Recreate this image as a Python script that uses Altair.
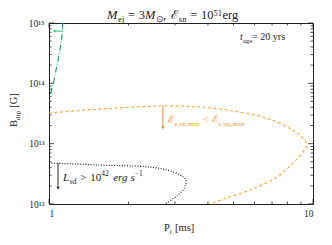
import altair as alt
import pandas as pd

# ---- curves ----
green_P = [1.127, 1.12, 1.10, 1.072, 1.045, 1.018, 1.0]
green_B = [1.0e15, 6.3e14, 3.6e14, 2.0e14, 1.14e14, 7.2e13, 5.7e13]

orange_P = [1.0, 1.31, 1.56, 2.70, 3.73, 4.98, 6.69, 7.97, 8.93, 9.49,
            9.17, 8.40, 7.31, 5.77, 4.72, 4.07]
orange_B = [3.22e13, 3.55e13, 3.75e13, 4.21e13, 4.05e13, 3.48e13, 2.66e13,
            1.89e13, 1.39e13, 9.5e12, 7.27e12, 4.78e12, 2.80e12, 1.71e12,
            1.26e12, 1.0e12]

black_P = [1.0, 1.56, 2.41, 2.80, 3.14, 3.30, 3.27, 3.08, 2.75]
black_B = [4.78e12, 4.43e12, 4.10e12, 3.66e12, 3.02e12, 2.50e12, 1.91e12,
           1.41e12, 1.0e12]

# arrows: (P start, P end, B start, B end)
green_arrow = [1.127, 1.045, 7.36e14, 7.36e14]
orange_arrow = [2.70, 2.70, 4.21e13, 1.82e13]
black_arrow = [1.082, 1.082, 4.78e12, 1.84e12]

# ticks
x_major = [1, 10]
x_minor = [2, 3, 4, 5, 6, 7, 8, 9]
y_major = [1e12, 1e13, 1e14, 1e15]
y_minor = [2e12, 3e12, 4e12, 5e12, 6e12, 7e12, 8e12, 9e12,
           2e13, 3e13, 4e13, 5e13, 6e13, 7e13, 8e13, 9e13,
           2e14, 3e14, 4e14, 5e14, 6e14, 7e14, 8e14, 9e14]

W, H = 264, 181
FONT = "Liberation Serif"
INK = "#222222"


def xs():
    return alt.Scale(type="log", domain=[1, 10], nice=False)


def ys():
    return alt.Scale(type="log", domain=[1e12, 1e15], nice=False)


xaxis = alt.Axis(values=x_major, labelExpr="datum.value < 5 ? '1' : '10'",
                 ticks=False, domain=False, grid=False, title=None,
                 labelFont=FONT, labelFontSize=9.5, labelPadding=4, labelColor=INK)
yaxis = alt.Axis(values=y_major,
                 labelExpr="datum.value > 5e14 ? '10¹⁵' : datum.value > 5e13 ? '10¹⁴' : datum.value > 5e12 ? '10¹³' : '10¹²'",
                 ticks=False, domain=False, grid=False, title=None,
                 labelFont=FONT, labelFontSize=9.5, labelPadding=5, labelColor=INK)


def curve(P, B, color, dash, width=1.2, axes=False):
    df = pd.DataFrame({"P": P, "B": B, "o": list(range(len(P)))})
    return alt.Chart(df).mark_line(color=color, strokeDash=dash, strokeWidth=width,
                                   interpolate="catmull-rom").encode(
        x=alt.X("P:Q", scale=xs(), axis=xaxis if axes else None),
        y=alt.Y("B:Q", scale=ys(), axis=yaxis if axes else None),
        order="o:Q")


def arrow(a, color, head):
    df = pd.DataFrame({"P": [a[0]], "P2": [a[1]], "B": [a[2]], "B2": [a[3]]})
    rule = alt.Chart(df).mark_rule(color=color, strokeWidth=1).encode(
        x=alt.X("P:Q", scale=xs(), axis=None), x2="P2:Q",
        y=alt.Y("B:Q", scale=ys(), axis=None), y2="B2:Q")
    tip = alt.Chart(df).mark_point(shape=head, filled=True, color=color, size=10, opacity=1).encode(
        x=alt.X("P2:Q", scale=xs(), axis=None), y=alt.Y("B2:Q", scale=ys(), axis=None))
    return [rule, tip]


def ticks(vals, length, side):
    df = pd.DataFrame({"v": vals})
    c = alt.Chart(df).mark_rule(color=INK, strokeWidth=0.8)
    if side == "left":
        return c.encode(y=alt.Y("v:Q", scale=ys(), axis=None), x=alt.value(0), x2=alt.value(length))
    if side == "right":
        return c.encode(y=alt.Y("v:Q", scale=ys(), axis=None), x=alt.value(W), x2=alt.value(W - length))
    if side == "bottom":
        return c.encode(x=alt.X("v:Q", scale=xs(), axis=None), y=alt.value(H), y2=alt.value(H - length))
    return c.encode(x=alt.X("v:Q", scale=xs(), axis=None), y=alt.value(0), y2=alt.value(length))


# ---- rich text made of pieces ----
CW = {" ": 0.25, "=": 0.564, "<": 0.564, ">": 0.564, ",": 0.25, "e": 0.444, "j": 0.278,
      "r": 0.333, "g": 0.5, "y": 0.5, "s": 0.389, "n": 0.5, "b": 0.5, "m": 0.778,
      "i": 0.278, "a": 0.444, "x": 0.5, "d": 0.5, "p": 0.5, "L": 0.611, "M": 0.889,
      "P": 0.556, "B": 0.667, "G": 0.722, "[": 0.333, "]": 0.333, "t": 0.278,
      "−": 0.564, "ℰ": 0.62, "⊙": 0.8}


def tw(s, size):
    return sum(CW.get(c, 0.5) for c in s) * size


def rich(pieces, x, y, size, color, angle=0, sup_shift=0.42, sub_shift=0.26):
    rows = []
    pos = 0.0
    for text, kind, it in pieces:
        if kind == "gap":
            pos += it * size
            continue
        fs = size * 0.68 if kind in ("sub", "sup") else size
        shift = sub_shift * size if kind == "sub" else (-sup_shift * size if kind == "sup" else 0.0)
        if angle == 0:
            rx, ry = x + pos, y + shift
        else:
            rx, ry = x + shift, y - pos
        rows.append({"x": rx, "y": ry, "t": text, "s": fs, "a": angle, "c": color, "it": it})
        pos += tw(text, fs)
    return rows


G = ("", "gap", 0.3)
rows = []
rows += rich([("M", "n", True), ("ej", "sub", False), G, ("=", "n", False), G, ("3", "n", False),
              ("M", "n", True), ("⊙", "sub", False), (",", "n", False), ("", "gap", 0.4),
              ("ℰ", "n", False), ("sn", "sub", False), G, ("=", "n", False), G,
              ("10", "n", False), ("51", "sup", False), ("", "gap", 0.05), ("erg", "n", False)],
             58, -3.6, 12.5, INK, sup_shift=0.27, sub_shift=0.18)
rows += rich([("t", "n", True), ("age", "sub", False), (" = 20 yrs", "n", False)],
             191, 17, 10, INK)
rows += rich([("ℰ", "n", False), ("e,nb,min", "sub", False), G, ("<", "n", False), G,
              ("ℰ", "n", False), ("e,inj,max", "sub", False)],
             119, 100, 10.5, "#f0a040")
rows += rich([("L", "n", True), ("sd", "sub", False), ("", "gap", 0.35), (">", "n", False),
              ("", "gap", 0.35), ("10", "n", False), ("42", "sup", False), ("", "gap", 0.4),
              ("erg", "n", True), ("", "gap", 0.3), ("s", "n", True), ("−1", "sup", False)],
             14, 158, 11, INK)
rows += rich([("P", "n", False), ("i", "sub", False), ("", "gap", 0.3), ("[ms]", "n", False)],
             115, 208, 10.5, INK)
rows += rich([("B", "n", False), ("dip", "sub", False), ("", "gap", 0.3), ("[G]", "n", False)],
             -32, 104, 10.5, INK, angle=270)


def text_layer(italic):
    df = pd.DataFrame([r for r in rows if r["it"] == italic])
    return alt.Chart(df).mark_text(align="left", baseline="alphabetic", font=FONT,
                                   fontStyle="italic" if italic else "normal").encode(
        x=alt.X("x:Q", scale=None, axis=None), y=alt.Y("y:Q", scale=None, axis=None),
        text="t:N", size=alt.Size("s:Q", scale=None, legend=None),
        angle=alt.Angle("a:Q", scale=None), color=alt.Color("c:N", scale=None, legend=None))


layers = [
    curve(green_P, green_B, "#22a67a", [6, 2, 1, 2], axes=True),
    curve(orange_P, orange_B, "#f2ab3c", [3, 2.5]),
    curve(black_P, black_B, INK, [1, 1.6]),
]
layers += arrow(green_arrow, "#2fc46a", "triangle-left")
layers += arrow(orange_arrow, "#e8843a", "triangle-down")
layers += arrow(black_arrow, INK, "triangle-down")
layers += [ticks(y_major, 5, "left"), ticks(y_minor, 2.5, "left"),
           ticks(y_major, 5, "right"), ticks(y_minor, 2.5, "right"),
           ticks(x_major, 5, "bottom"), ticks(x_minor, 2.5, "bottom"),
           ticks(x_major, 5, "top"), ticks(x_minor, 2.5, "top")]
layers += [text_layer(False), text_layer(True)]

chart = alt.layer(*layers).resolve_scale(
    x="independent", y="independent"
).properties(
    width=W, height=H, autosize="none",
    padding={"left": 41, "top": 15, "right": 11, "bottom": 33},
).configure_view(stroke=INK, strokeWidth=1)

chart.save("out.html", embed_options={"renderer": "svg", "actions": False})
